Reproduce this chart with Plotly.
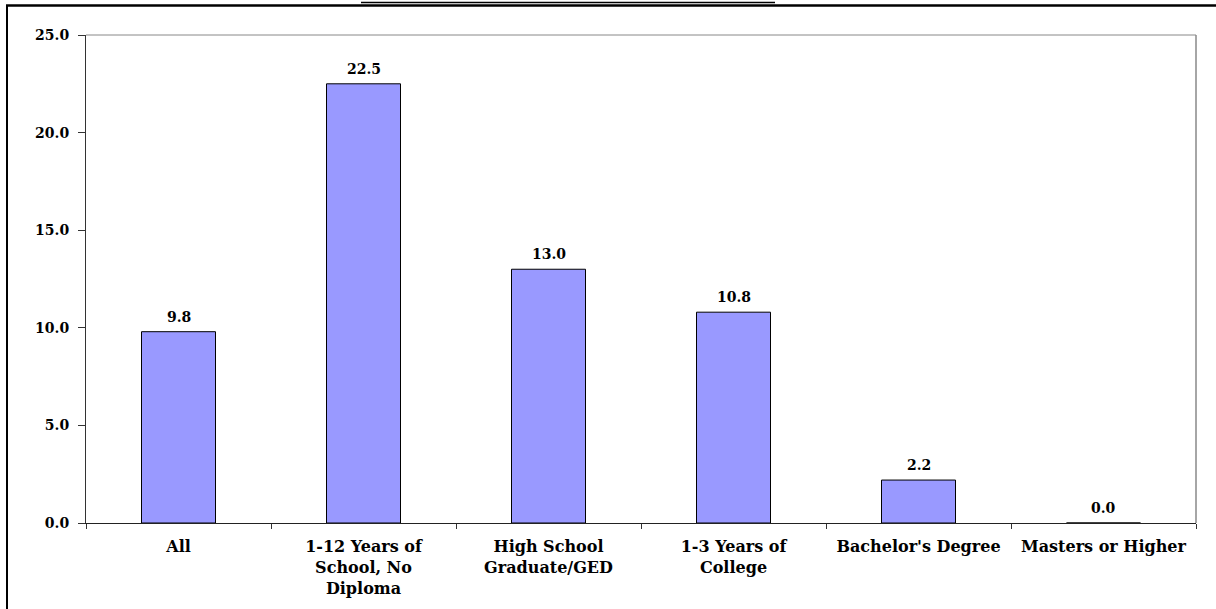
import plotly.graph_objects as go

categories = [
    "All",
    "1-12 Years of<br>School, No<br>Diploma",
    "High School<br>Graduate/GED",
    "1-3 Years of<br>College",
    "Bachelor's Degree",
    "Masters or Higher",
]
values = [9.8, 22.5, 13.0, 10.8, 2.2, 0.0]
y_ticks = [0, 5, 10, 15, 20, 25]
y_tick_labels = ["0.0", "5.0", "10.0", "15.0", "20.0", "25.0"]

W, H = 1216, 609
ML, MR, MT, MB = 86, 20, 35, 86
PW, PH = W - ML - MR, H - MT - MB

def px_x(x):
    return (x - ML) / PW

def px_y(y):
    return (H - MB - y) / PH

FONT = "DejaVu Serif"
NUM_SIZE = 14
CAT_SIZE = 16

fig = go.Figure(
    go.Bar(
        x=categories,
        y=values,
        width=0.4,
        marker=dict(color="#9999FF", line=dict(color="black", width=1)),
        cliponaxis=False,
    )
)

# value labels above each bar
for cat, val in zip(categories, values):
    fig.add_annotation(
        x=cat, y=val, text=f"{val:.1f}",
        showarrow=False, yanchor="bottom", yshift=5,
        font=dict(family=FONT, size=NUM_SIZE, color="black", weight="bold"),
    )

fig.update_layout(
    width=W,
    height=H,
    margin=dict(l=ML, r=MR, t=MT, b=MB),
    paper_bgcolor="white",
    plot_bgcolor="white",
    showlegend=False,
    font=dict(family=FONT, size=NUM_SIZE, color="black", weight="bold"),
)

fig.update_xaxes(
    type="category",
    tickson="boundaries",
    ticks="outside",
    ticklen=5,
    tickcolor="#333333",
    tickwidth=1,
    ticklabelstandoff=9,
    showline=True,
    linecolor="#222222",
    linewidth=1,
    showgrid=False,
    tickfont=dict(family=FONT, size=CAT_SIZE, color="black", weight="bold"),
)

fig.update_yaxes(
    range=[0, 25],
    tickvals=y_ticks,
    ticktext=y_tick_labels,
    ticks="outside",
    ticklen=7,
    tickcolor="#333333",
    ticklabelstandoff=6,
    showline=True,
    linecolor="#333333",
    linewidth=1,
    showgrid=False,
    zeroline=False,
    tickfont=dict(family=FONT, size=NUM_SIZE, color="black", weight="bold"),
)

shapes = [
    # gray frame on the top and right of the plotting area
    dict(type="line", xref="paper", yref="paper", x0=0, x1=1, y0=1, y1=1,
         line=dict(color="#888888", width=1)),
    dict(type="line", xref="paper", yref="paper", x0=1, x1=1, y0=0, y1=1,
         line=dict(color="#888888", width=1.5)),
    # outer chart border (left and top)
    dict(type="line", xref="paper", yref="paper", x0=px_x(7), x1=px_x(7),
         y0=px_y(5), y1=px_y(612), line=dict(color="black", width=2)),
    dict(type="line", xref="paper", yref="paper", x0=px_x(6), x1=px_x(1220),
         y0=px_y(5.5), y1=px_y(5.5), line=dict(color="black", width=2.5)),
    # underline of the heading above the chart
    dict(type="line", xref="paper", yref="paper", x0=px_x(361), x1=px_x(775),
         y0=px_y(2.5), y1=px_y(2.5), line=dict(color="black", width=1.5)),
]
fig.update_layout(shapes=shapes)

fig.write_html("out.html")
